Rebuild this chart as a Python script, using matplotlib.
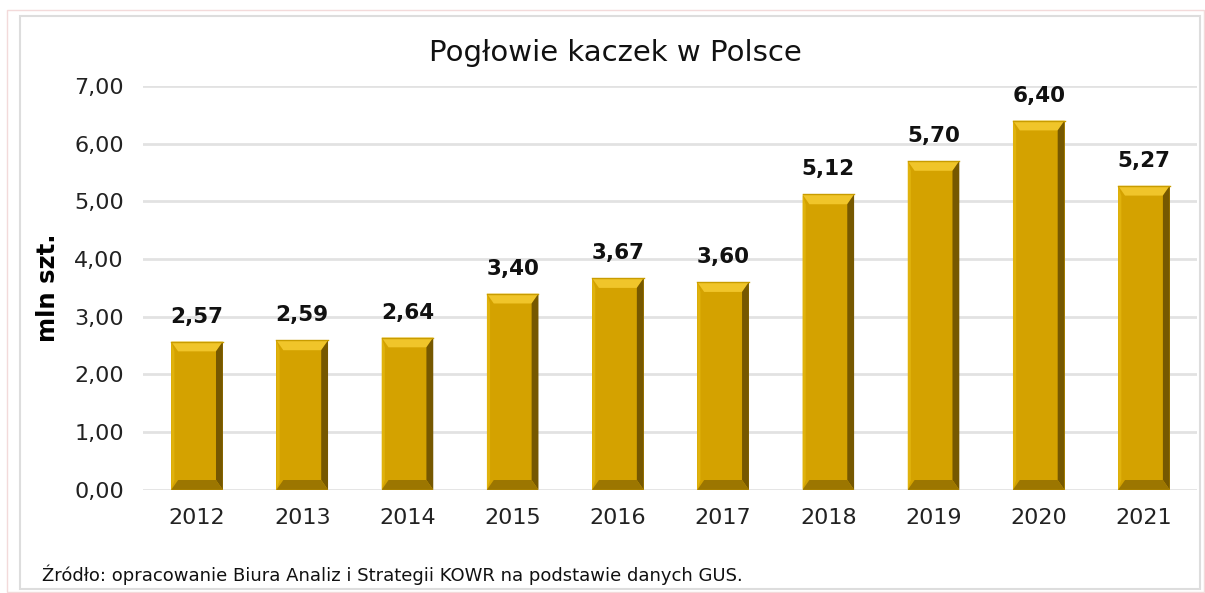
import matplotlib.pyplot as plt
from matplotlib.patches import Rectangle

plt.rcParams['font.family'] = ['DejaVu Sans']

years = ['2012', '2013', '2014', '2015', '2016', '2017', '2018', '2019', '2020', '2021']
values = [2.57, 2.59, 2.64, 3.40, 3.67, 3.60, 5.12, 5.70, 6.40, 5.27]
labels = ['2,57', '2,59', '2,64', '3,40', '3,67', '3,60', '5,12', '5,70', '6,40', '5,27']
yticks = [0, 1, 2, 3, 4, 5, 6, 7]

face = '#D4A200'
top_c = '#F0C52A'
left_c = '#E0B20C'
right_c = '#765800'
bottom_c = '#9C7600'

fig = plt.figure(figsize=(12.05, 5.93), dpi=100)
ax = fig.add_axes([0.119, 0.174, 0.874, 0.681])

# frames around the chart
fig.patches.append(Rectangle((7 / 1205, 1 - 592 / 593), 1197 / 1205, 582 / 593,
                             transform=fig.transFigure, fill=False,
                             edgecolor='#F3DADA', linewidth=1))
fig.patches.append(Rectangle((20 / 1205, 1 - 589 / 593), 1180 / 1205, 573 / 593,
                             transform=fig.transFigure, fill=False,
                             edgecolor='#DDDDDD', linewidth=1.5))

x = list(range(len(years)))
w = 0.49
bars = ax.bar(x, values, width=w, color=face, zorder=2)

# bevel facets
bx = 0.065
by = 0.17
for xi, v in zip(x, values):
    l, r = xi - w / 2, xi + w / 2
    ax.fill([l, r, r - bx, l + bx], [v, v, v - by, v - by], color=top_c, zorder=3, lw=0)
    ax.fill([l, l + 0.03, l + 0.03, l], [v, v - by, by, 0], color=left_c, zorder=3, lw=0)
    ax.fill([r, r - bx, r - bx, r], [v, v - by, by, 0], color=right_c, zorder=3, lw=0)
    ax.fill([l, r, r - bx, l + bx], [0, 0, by, by], color=bottom_c, zorder=3, lw=0)
    ax.plot([l, r], [v, v], color='#C89C00', lw=1, zorder=4)

for xi, v, t in zip(x, values, labels):
    ax.text(xi, v + 0.26, t, ha='center', va='bottom', fontsize=15.5,
            fontweight='bold', color='#111111')

ax.set_xlim(-0.51, 9.5)
ax.set_ylim(0, 7)
ax.set_yticks(yticks)
ax.set_yticklabels(['%d,00' % t for t in yticks])
ax.set_xticks(x)
ax.set_xticklabels(years)
ax.tick_params(axis='both', length=0, labelsize=16, colors='#222222')
ax.tick_params(axis='y', pad=14)
ax.tick_params(axis='x', pad=13)
ax.grid(axis='y', color='#E2E2E2', linewidth=2, zorder=0)
ax.set_axisbelow(True)
for s in ax.spines.values():
    s.set_visible(False)

ax.set_ylabel('mln szt.', fontsize=17.5, fontweight='bold', labelpad=10)
fig.text(0.511, 1 - 53 / 593, 'Pogłowie kaczek w Polsce', ha='center', va='center',
         fontsize=21, color='#111111')
fig.text(42 / 1205, 1 - 575 / 593,
         'Źródło: opracowanie Biura Analiz i Strategii KOWR na podstawie danych GUS.',
         ha='left', va='center', fontsize=13, color='#111111')

fig.savefig('out.png', dpi=100)
